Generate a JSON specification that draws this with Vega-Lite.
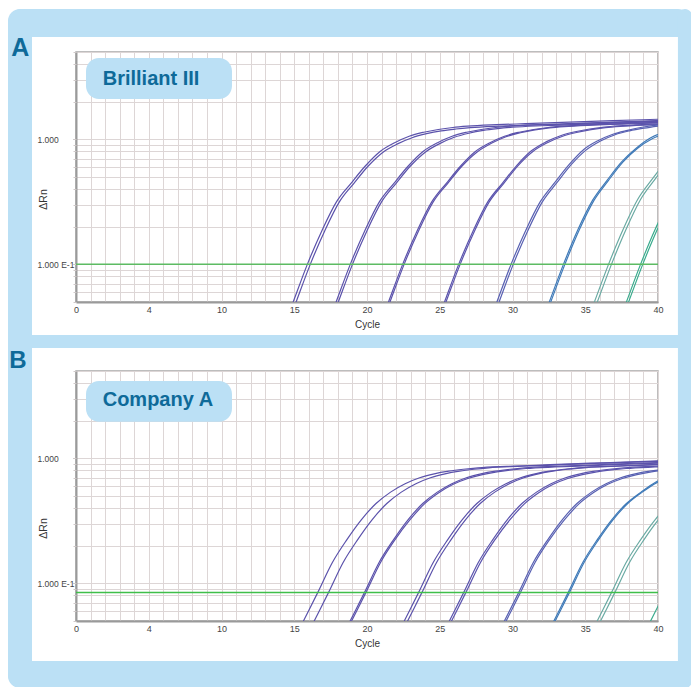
{
"$schema": "https://vega.github.io/schema/vega-lite/v6.json",
"background": "white",
"padding": {"left": 7, "top": 8, "right": 0, "bottom": 0},
"bounds": "flush",
"spacing": 69,
"config": {
  "view": {"stroke": "#a8a8a8", "strokeWidth": 1.5},
  "axis": {"labelFont": "Liberation Sans", "titleFont": "Liberation Sans", "labelColor": "#444444", "titleColor": "#333333", "labelFontSize": 9, "titleFontSize": 10, "titleFontWeight": "normal", "gridColor": "#ddd6d6", "gridOpacity": 1, "domainColor": "#9a9a9a", "domainWidth": 2, "tickColor": "#cfc8c8"}
},
"datasets": {
"A": [
{"curve":"a1","group":"g1","cycle":13.9,"dRn":0.024},{"curve":"a1","group":"g1","cycle":14.9,"dRn":0.049},{"curve":"a1","group":"g1","cycle":15.9,"dRn":0.1},{"curve":"a1","group":"g1","cycle":16.9,"dRn":0.186},{"curve":"a1","group":"g1","cycle":17.9,"dRn":0.316},{"curve":"a1","group":"g1","cycle":18.9,"dRn":0.445},{"curve":"a1","group":"g1","cycle":19.9,"dRn":0.615},{"curve":"a1","group":"g1","cycle":20.9,"dRn":0.8},{"curve":"a1","group":"g1","cycle":21.9,"dRn":0.94},{"curve":"a1","group":"g1","cycle":22.9,"dRn":1.06},{"curve":"a1","group":"g1","cycle":23.9,"dRn":1.14},{"curve":"a1","group":"g1","cycle":24.9,"dRn":1.2},{"curve":"a1","group":"g1","cycle":25.9,"dRn":1.245},{"curve":"a1","group":"g1","cycle":26.9,"dRn":1.275},{"curve":"a1","group":"g1","cycle":28.9,"dRn":1.31},{"curve":"a1","group":"g1","cycle":30.9,"dRn":1.335},{"curve":"a1","group":"g1","cycle":32.9,"dRn":1.36},{"curve":"a1","group":"g1","cycle":34.9,"dRn":1.385},{"curve":"a1","group":"g1","cycle":36.9,"dRn":1.41},{"curve":"a1","group":"g1","cycle":38.9,"dRn":1.435},{"curve":"a1","group":"g1","cycle":40.9,"dRn":1.46},
{"curve":"a2","group":"g1","cycle":14.1,"dRn":0.024},{"curve":"a2","group":"g1","cycle":15.1,"dRn":0.049},{"curve":"a2","group":"g1","cycle":16.1,"dRn":0.1},{"curve":"a2","group":"g1","cycle":17.1,"dRn":0.186},{"curve":"a2","group":"g1","cycle":18.1,"dRn":0.316},{"curve":"a2","group":"g1","cycle":19.1,"dRn":0.445},{"curve":"a2","group":"g1","cycle":20.1,"dRn":0.615},{"curve":"a2","group":"g1","cycle":21.1,"dRn":0.79},{"curve":"a2","group":"g1","cycle":22.1,"dRn":0.92},{"curve":"a2","group":"g1","cycle":23.1,"dRn":1.03},{"curve":"a2","group":"g1","cycle":24.1,"dRn":1.11},{"curve":"a2","group":"g1","cycle":25.1,"dRn":1.17},{"curve":"a2","group":"g1","cycle":26.1,"dRn":1.21},{"curve":"a2","group":"g1","cycle":27.1,"dRn":1.24},{"curve":"a2","group":"g1","cycle":29.1,"dRn":1.275},{"curve":"a2","group":"g1","cycle":31.1,"dRn":1.3},{"curve":"a2","group":"g1","cycle":33.1,"dRn":1.32},{"curve":"a2","group":"g1","cycle":35.1,"dRn":1.345},{"curve":"a2","group":"g1","cycle":37.1,"dRn":1.37},{"curve":"a2","group":"g1","cycle":39.1,"dRn":1.39},{"curve":"a2","group":"g1","cycle":41.1,"dRn":1.41},
{"curve":"a3","group":"g2","cycle":16.85,"dRn":0.024},{"curve":"a3","group":"g2","cycle":17.85,"dRn":0.049},{"curve":"a3","group":"g2","cycle":18.85,"dRn":0.1},{"curve":"a3","group":"g2","cycle":19.85,"dRn":0.186},{"curve":"a3","group":"g2","cycle":20.85,"dRn":0.316},{"curve":"a3","group":"g2","cycle":21.85,"dRn":0.445},{"curve":"a3","group":"g2","cycle":22.85,"dRn":0.615},{"curve":"a3","group":"g2","cycle":23.85,"dRn":0.8},{"curve":"a3","group":"g2","cycle":24.85,"dRn":0.94},{"curve":"a3","group":"g2","cycle":25.85,"dRn":1.06},{"curve":"a3","group":"g2","cycle":26.85,"dRn":1.14},{"curve":"a3","group":"g2","cycle":27.85,"dRn":1.2},{"curve":"a3","group":"g2","cycle":28.85,"dRn":1.245},{"curve":"a3","group":"g2","cycle":29.85,"dRn":1.275},{"curve":"a3","group":"g2","cycle":31.85,"dRn":1.31},{"curve":"a3","group":"g2","cycle":33.85,"dRn":1.335},{"curve":"a3","group":"g2","cycle":35.85,"dRn":1.36},{"curve":"a3","group":"g2","cycle":37.85,"dRn":1.385},{"curve":"a3","group":"g2","cycle":39.85,"dRn":1.41},{"curve":"a3","group":"g2","cycle":41.85,"dRn":1.435},
{"curve":"a4","group":"g2","cycle":17.0,"dRn":0.024},{"curve":"a4","group":"g2","cycle":18.0,"dRn":0.049},{"curve":"a4","group":"g2","cycle":19.0,"dRn":0.1},{"curve":"a4","group":"g2","cycle":20.0,"dRn":0.186},{"curve":"a4","group":"g2","cycle":21.0,"dRn":0.316},{"curve":"a4","group":"g2","cycle":22.0,"dRn":0.445},{"curve":"a4","group":"g2","cycle":23.0,"dRn":0.615},{"curve":"a4","group":"g2","cycle":24.0,"dRn":0.79},{"curve":"a4","group":"g2","cycle":25.0,"dRn":0.925},{"curve":"a4","group":"g2","cycle":26.0,"dRn":1.04},{"curve":"a4","group":"g2","cycle":27.0,"dRn":1.12},{"curve":"a4","group":"g2","cycle":28.0,"dRn":1.18},{"curve":"a4","group":"g2","cycle":29.0,"dRn":1.22},{"curve":"a4","group":"g2","cycle":30.0,"dRn":1.25},{"curve":"a4","group":"g2","cycle":32.0,"dRn":1.285},{"curve":"a4","group":"g2","cycle":34.0,"dRn":1.31},{"curve":"a4","group":"g2","cycle":36.0,"dRn":1.335},{"curve":"a4","group":"g2","cycle":38.0,"dRn":1.36},{"curve":"a4","group":"g2","cycle":40.0,"dRn":1.385},
{"curve":"a5","group":"g3","cycle":20.45,"dRn":0.024},{"curve":"a5","group":"g3","cycle":21.45,"dRn":0.049},{"curve":"a5","group":"g3","cycle":22.45,"dRn":0.1},{"curve":"a5","group":"g3","cycle":23.45,"dRn":0.186},{"curve":"a5","group":"g3","cycle":24.45,"dRn":0.316},{"curve":"a5","group":"g3","cycle":25.45,"dRn":0.445},{"curve":"a5","group":"g3","cycle":26.45,"dRn":0.615},{"curve":"a5","group":"g3","cycle":27.45,"dRn":0.8},{"curve":"a5","group":"g3","cycle":28.45,"dRn":0.94},{"curve":"a5","group":"g3","cycle":29.45,"dRn":1.06},{"curve":"a5","group":"g3","cycle":30.45,"dRn":1.14},{"curve":"a5","group":"g3","cycle":31.45,"dRn":1.2},{"curve":"a5","group":"g3","cycle":32.45,"dRn":1.245},{"curve":"a5","group":"g3","cycle":33.45,"dRn":1.275},{"curve":"a5","group":"g3","cycle":35.45,"dRn":1.31},{"curve":"a5","group":"g3","cycle":37.45,"dRn":1.335},{"curve":"a5","group":"g3","cycle":39.45,"dRn":1.36},{"curve":"a5","group":"g3","cycle":41.45,"dRn":1.385},
{"curve":"a6","group":"g3","cycle":20.55,"dRn":0.024},{"curve":"a6","group":"g3","cycle":21.55,"dRn":0.049},{"curve":"a6","group":"g3","cycle":22.55,"dRn":0.1},{"curve":"a6","group":"g3","cycle":23.55,"dRn":0.186},{"curve":"a6","group":"g3","cycle":24.55,"dRn":0.316},{"curve":"a6","group":"g3","cycle":25.55,"dRn":0.445},{"curve":"a6","group":"g3","cycle":26.55,"dRn":0.615},{"curve":"a6","group":"g3","cycle":27.55,"dRn":0.79},{"curve":"a6","group":"g3","cycle":28.55,"dRn":0.93},{"curve":"a6","group":"g3","cycle":29.55,"dRn":1.05},{"curve":"a6","group":"g3","cycle":30.55,"dRn":1.13},{"curve":"a6","group":"g3","cycle":31.55,"dRn":1.19},{"curve":"a6","group":"g3","cycle":32.55,"dRn":1.235},{"curve":"a6","group":"g3","cycle":33.55,"dRn":1.265},{"curve":"a6","group":"g3","cycle":35.55,"dRn":1.3},{"curve":"a6","group":"g3","cycle":37.55,"dRn":1.325},{"curve":"a6","group":"g3","cycle":39.55,"dRn":1.35},{"curve":"a6","group":"g3","cycle":41.55,"dRn":1.375},
{"curve":"a7","group":"g4","cycle":24.3,"dRn":0.024},{"curve":"a7","group":"g4","cycle":25.3,"dRn":0.049},{"curve":"a7","group":"g4","cycle":26.3,"dRn":0.1},{"curve":"a7","group":"g4","cycle":27.3,"dRn":0.186},{"curve":"a7","group":"g4","cycle":28.3,"dRn":0.316},{"curve":"a7","group":"g4","cycle":29.3,"dRn":0.445},{"curve":"a7","group":"g4","cycle":30.3,"dRn":0.62},{"curve":"a7","group":"g4","cycle":31.3,"dRn":0.81},{"curve":"a7","group":"g4","cycle":32.3,"dRn":0.955},{"curve":"a7","group":"g4","cycle":33.3,"dRn":1.07},{"curve":"a7","group":"g4","cycle":34.3,"dRn":1.15},{"curve":"a7","group":"g4","cycle":35.3,"dRn":1.21},{"curve":"a7","group":"g4","cycle":36.3,"dRn":1.255},{"curve":"a7","group":"g4","cycle":37.3,"dRn":1.285},{"curve":"a7","group":"g4","cycle":39.3,"dRn":1.32},{"curve":"a7","group":"g4","cycle":41.3,"dRn":1.345},
{"curve":"a8","group":"g4","cycle":24.4,"dRn":0.024},{"curve":"a8","group":"g4","cycle":25.4,"dRn":0.049},{"curve":"a8","group":"g4","cycle":26.4,"dRn":0.1},{"curve":"a8","group":"g4","cycle":27.4,"dRn":0.186},{"curve":"a8","group":"g4","cycle":28.4,"dRn":0.316},{"curve":"a8","group":"g4","cycle":29.4,"dRn":0.445},{"curve":"a8","group":"g4","cycle":30.4,"dRn":0.62},{"curve":"a8","group":"g4","cycle":31.4,"dRn":0.8},{"curve":"a8","group":"g4","cycle":32.4,"dRn":0.94},{"curve":"a8","group":"g4","cycle":33.4,"dRn":1.055},{"curve":"a8","group":"g4","cycle":34.4,"dRn":1.135},{"curve":"a8","group":"g4","cycle":35.4,"dRn":1.195},{"curve":"a8","group":"g4","cycle":36.4,"dRn":1.24},{"curve":"a8","group":"g4","cycle":37.4,"dRn":1.27},{"curve":"a8","group":"g4","cycle":39.4,"dRn":1.305},{"curve":"a8","group":"g4","cycle":41.4,"dRn":1.33},
{"curve":"a9","group":"g5","cycle":27.9,"dRn":0.024},{"curve":"a9","group":"g5","cycle":28.9,"dRn":0.049},{"curve":"a9","group":"g5","cycle":29.9,"dRn":0.1},{"curve":"a9","group":"g5","cycle":30.9,"dRn":0.186},{"curve":"a9","group":"g5","cycle":31.9,"dRn":0.316},{"curve":"a9","group":"g5","cycle":32.9,"dRn":0.45},{"curve":"a9","group":"g5","cycle":33.9,"dRn":0.63},{"curve":"a9","group":"g5","cycle":34.9,"dRn":0.83},{"curve":"a9","group":"g5","cycle":35.9,"dRn":0.98},{"curve":"a9","group":"g5","cycle":36.9,"dRn":1.1},{"curve":"a9","group":"g5","cycle":37.9,"dRn":1.18},{"curve":"a9","group":"g5","cycle":38.9,"dRn":1.25},{"curve":"a9","group":"g5","cycle":39.9,"dRn":1.3},{"curve":"a9","group":"g5","cycle":40.9,"dRn":1.33},
{"curve":"a10","group":"g5","cycle":28.05,"dRn":0.024},{"curve":"a10","group":"g5","cycle":29.05,"dRn":0.049},{"curve":"a10","group":"g5","cycle":30.05,"dRn":0.1},{"curve":"a10","group":"g5","cycle":31.05,"dRn":0.186},{"curve":"a10","group":"g5","cycle":32.05,"dRn":0.316},{"curve":"a10","group":"g5","cycle":33.05,"dRn":0.45},{"curve":"a10","group":"g5","cycle":34.05,"dRn":0.63},{"curve":"a10","group":"g5","cycle":35.05,"dRn":0.82},{"curve":"a10","group":"g5","cycle":36.05,"dRn":0.97},{"curve":"a10","group":"g5","cycle":37.05,"dRn":1.09},{"curve":"a10","group":"g5","cycle":38.05,"dRn":1.17},{"curve":"a10","group":"g5","cycle":39.05,"dRn":1.23},{"curve":"a10","group":"g5","cycle":40.05,"dRn":1.28},
{"curve":"a11","group":"g6","cycle":31.5,"dRn":0.024},{"curve":"a11","group":"g6","cycle":32.5,"dRn":0.049},{"curve":"a11","group":"g6","cycle":33.5,"dRn":0.1},{"curve":"a11","group":"g6","cycle":34.5,"dRn":0.19},{"curve":"a11","group":"g6","cycle":35.5,"dRn":0.325},{"curve":"a11","group":"g6","cycle":36.5,"dRn":0.47},{"curve":"a11","group":"g6","cycle":37.5,"dRn":0.66},{"curve":"a11","group":"g6","cycle":38.5,"dRn":0.85},{"curve":"a11","group":"g6","cycle":39.5,"dRn":1.03},{"curve":"a11","group":"g6","cycle":40.5,"dRn":1.15},
{"curve":"a12","group":"g6","cycle":31.6,"dRn":0.024},{"curve":"a12","group":"g6","cycle":32.6,"dRn":0.049},{"curve":"a12","group":"g6","cycle":33.6,"dRn":0.1},{"curve":"a12","group":"g6","cycle":34.6,"dRn":0.19},{"curve":"a12","group":"g6","cycle":35.6,"dRn":0.325},{"curve":"a12","group":"g6","cycle":36.6,"dRn":0.47},{"curve":"a12","group":"g6","cycle":37.6,"dRn":0.66},{"curve":"a12","group":"g6","cycle":38.6,"dRn":0.85},{"curve":"a12","group":"g6","cycle":39.6,"dRn":1.01},{"curve":"a12","group":"g6","cycle":40.6,"dRn":1.13},
{"curve":"a13","group":"g7","cycle":34.6,"dRn":0.024},{"curve":"a13","group":"g7","cycle":35.6,"dRn":0.049},{"curve":"a13","group":"g7","cycle":36.6,"dRn":0.1},{"curve":"a13","group":"g7","cycle":37.6,"dRn":0.19},{"curve":"a13","group":"g7","cycle":38.6,"dRn":0.33},{"curve":"a13","group":"g7","cycle":39.6,"dRn":0.48},{"curve":"a13","group":"g7","cycle":40.6,"dRn":0.68},
{"curve":"a14","group":"g7","cycle":34.8,"dRn":0.024},{"curve":"a14","group":"g7","cycle":35.8,"dRn":0.049},{"curve":"a14","group":"g7","cycle":36.8,"dRn":0.1},{"curve":"a14","group":"g7","cycle":37.8,"dRn":0.19},{"curve":"a14","group":"g7","cycle":38.8,"dRn":0.33},{"curve":"a14","group":"g7","cycle":39.8,"dRn":0.48},{"curve":"a14","group":"g7","cycle":40.8,"dRn":0.68},
{"curve":"a15","group":"g8","cycle":36.8,"dRn":0.024},{"curve":"a15","group":"g8","cycle":37.8,"dRn":0.049},{"curve":"a15","group":"g8","cycle":38.8,"dRn":0.1},{"curve":"a15","group":"g8","cycle":39.8,"dRn":0.19},{"curve":"a15","group":"g8","cycle":40.8,"dRn":0.33},
{"curve":"a16","group":"g8","cycle":36.95,"dRn":0.024},{"curve":"a16","group":"g8","cycle":37.95,"dRn":0.049},{"curve":"a16","group":"g8","cycle":38.95,"dRn":0.1},{"curve":"a16","group":"g8","cycle":39.95,"dRn":0.19},{"curve":"a16","group":"g8","cycle":40.95,"dRn":0.33}
],
"B": [
{"curve":"b1","group":"g1","cycle":14.62,"dRn":0.029},{"curve":"b1","group":"g1","cycle":15.62,"dRn":0.0497},{"curve":"b1","group":"g1","cycle":16.62,"dRn":0.0847},{"curve":"b1","group":"g1","cycle":17.62,"dRn":0.147},{"curve":"b1","group":"g1","cycle":18.62,"dRn":0.224},{"curve":"b1","group":"g1","cycle":19.62,"dRn":0.324},{"curve":"b1","group":"g1","cycle":20.62,"dRn":0.435},{"curve":"b1","group":"g1","cycle":21.62,"dRn":0.537},{"curve":"b1","group":"g1","cycle":22.62,"dRn":0.627},{"curve":"b1","group":"g1","cycle":23.62,"dRn":0.7},{"curve":"b1","group":"g1","cycle":24.62,"dRn":0.752},{"curve":"b1","group":"g1","cycle":25.62,"dRn":0.79},{"curve":"b1","group":"g1","cycle":26.62,"dRn":0.818},{"curve":"b1","group":"g1","cycle":27.62,"dRn":0.84},{"curve":"b1","group":"g1","cycle":29.62,"dRn":0.863},{"curve":"b1","group":"g1","cycle":31.62,"dRn":0.88},{"curve":"b1","group":"g1","cycle":33.62,"dRn":0.9},{"curve":"b1","group":"g1","cycle":35.62,"dRn":0.917},{"curve":"b1","group":"g1","cycle":37.62,"dRn":0.933},{"curve":"b1","group":"g1","cycle":39.62,"dRn":0.95},{"curve":"b1","group":"g1","cycle":41.62,"dRn":0.968},
{"curve":"b2","group":"g1","cycle":15.36,"dRn":0.029},{"curve":"b2","group":"g1","cycle":16.36,"dRn":0.0497},{"curve":"b2","group":"g1","cycle":17.36,"dRn":0.0847},{"curve":"b2","group":"g1","cycle":18.36,"dRn":0.147},{"curve":"b2","group":"g1","cycle":19.36,"dRn":0.224},{"curve":"b2","group":"g1","cycle":20.36,"dRn":0.324},{"curve":"b2","group":"g1","cycle":21.36,"dRn":0.435},{"curve":"b2","group":"g1","cycle":22.36,"dRn":0.537},{"curve":"b2","group":"g1","cycle":23.36,"dRn":0.627},{"curve":"b2","group":"g1","cycle":24.36,"dRn":0.7},{"curve":"b2","group":"g1","cycle":25.36,"dRn":0.752},{"curve":"b2","group":"g1","cycle":26.36,"dRn":0.79},{"curve":"b2","group":"g1","cycle":27.36,"dRn":0.818},{"curve":"b2","group":"g1","cycle":28.36,"dRn":0.84},{"curve":"b2","group":"g1","cycle":30.36,"dRn":0.863},{"curve":"b2","group":"g1","cycle":32.36,"dRn":0.88},{"curve":"b2","group":"g1","cycle":34.36,"dRn":0.9},{"curve":"b2","group":"g1","cycle":36.36,"dRn":0.917},{"curve":"b2","group":"g1","cycle":38.36,"dRn":0.933},{"curve":"b2","group":"g1","cycle":40.36,"dRn":0.95},
{"curve":"b3","group":"g2","cycle":17.83,"dRn":0.029},{"curve":"b3","group":"g2","cycle":18.83,"dRn":0.0497},{"curve":"b3","group":"g2","cycle":19.83,"dRn":0.0847},{"curve":"b3","group":"g2","cycle":20.83,"dRn":0.147},{"curve":"b3","group":"g2","cycle":21.83,"dRn":0.224},{"curve":"b3","group":"g2","cycle":22.83,"dRn":0.324},{"curve":"b3","group":"g2","cycle":23.83,"dRn":0.435},{"curve":"b3","group":"g2","cycle":24.83,"dRn":0.537},{"curve":"b3","group":"g2","cycle":25.83,"dRn":0.627},{"curve":"b3","group":"g2","cycle":26.83,"dRn":0.7},{"curve":"b3","group":"g2","cycle":27.83,"dRn":0.752},{"curve":"b3","group":"g2","cycle":28.83,"dRn":0.79},{"curve":"b3","group":"g2","cycle":29.83,"dRn":0.818},{"curve":"b3","group":"g2","cycle":30.83,"dRn":0.84},{"curve":"b3","group":"g2","cycle":32.83,"dRn":0.863},{"curve":"b3","group":"g2","cycle":34.83,"dRn":0.88},{"curve":"b3","group":"g2","cycle":36.83,"dRn":0.9},{"curve":"b3","group":"g2","cycle":38.83,"dRn":0.917},{"curve":"b3","group":"g2","cycle":40.83,"dRn":0.933},
{"curve":"b4","group":"g2","cycle":17.93,"dRn":0.029},{"curve":"b4","group":"g2","cycle":18.93,"dRn":0.0497},{"curve":"b4","group":"g2","cycle":19.93,"dRn":0.0847},{"curve":"b4","group":"g2","cycle":20.93,"dRn":0.147},{"curve":"b4","group":"g2","cycle":21.93,"dRn":0.224},{"curve":"b4","group":"g2","cycle":22.93,"dRn":0.32},{"curve":"b4","group":"g2","cycle":23.93,"dRn":0.43},{"curve":"b4","group":"g2","cycle":24.93,"dRn":0.53},{"curve":"b4","group":"g2","cycle":25.93,"dRn":0.62},{"curve":"b4","group":"g2","cycle":26.93,"dRn":0.69},{"curve":"b4","group":"g2","cycle":27.93,"dRn":0.742},{"curve":"b4","group":"g2","cycle":28.93,"dRn":0.78},{"curve":"b4","group":"g2","cycle":29.93,"dRn":0.808},{"curve":"b4","group":"g2","cycle":30.93,"dRn":0.83},{"curve":"b4","group":"g2","cycle":32.93,"dRn":0.853},{"curve":"b4","group":"g2","cycle":34.93,"dRn":0.87},{"curve":"b4","group":"g2","cycle":36.93,"dRn":0.89},{"curve":"b4","group":"g2","cycle":38.93,"dRn":0.907},{"curve":"b4","group":"g2","cycle":40.93,"dRn":0.923},
{"curve":"b5","group":"g3","cycle":21.55,"dRn":0.029},{"curve":"b5","group":"g3","cycle":22.55,"dRn":0.0497},{"curve":"b5","group":"g3","cycle":23.55,"dRn":0.0847},{"curve":"b5","group":"g3","cycle":24.55,"dRn":0.147},{"curve":"b5","group":"g3","cycle":25.55,"dRn":0.224},{"curve":"b5","group":"g3","cycle":26.55,"dRn":0.324},{"curve":"b5","group":"g3","cycle":27.55,"dRn":0.435},{"curve":"b5","group":"g3","cycle":28.55,"dRn":0.537},{"curve":"b5","group":"g3","cycle":29.55,"dRn":0.627},{"curve":"b5","group":"g3","cycle":30.55,"dRn":0.7},{"curve":"b5","group":"g3","cycle":31.55,"dRn":0.752},{"curve":"b5","group":"g3","cycle":32.55,"dRn":0.79},{"curve":"b5","group":"g3","cycle":33.55,"dRn":0.818},{"curve":"b5","group":"g3","cycle":34.55,"dRn":0.84},{"curve":"b5","group":"g3","cycle":36.55,"dRn":0.863},{"curve":"b5","group":"g3","cycle":38.55,"dRn":0.88},{"curve":"b5","group":"g3","cycle":40.55,"dRn":0.9},
{"curve":"b6","group":"g3","cycle":21.78,"dRn":0.029},{"curve":"b6","group":"g3","cycle":22.78,"dRn":0.0497},{"curve":"b6","group":"g3","cycle":23.78,"dRn":0.0847},{"curve":"b6","group":"g3","cycle":24.78,"dRn":0.147},{"curve":"b6","group":"g3","cycle":25.78,"dRn":0.224},{"curve":"b6","group":"g3","cycle":26.78,"dRn":0.324},{"curve":"b6","group":"g3","cycle":27.78,"dRn":0.435},{"curve":"b6","group":"g3","cycle":28.78,"dRn":0.537},{"curve":"b6","group":"g3","cycle":29.78,"dRn":0.627},{"curve":"b6","group":"g3","cycle":30.78,"dRn":0.7},{"curve":"b6","group":"g3","cycle":31.78,"dRn":0.752},{"curve":"b6","group":"g3","cycle":32.78,"dRn":0.79},{"curve":"b6","group":"g3","cycle":33.78,"dRn":0.818},{"curve":"b6","group":"g3","cycle":34.78,"dRn":0.84},{"curve":"b6","group":"g3","cycle":36.78,"dRn":0.863},{"curve":"b6","group":"g3","cycle":38.78,"dRn":0.88},{"curve":"b6","group":"g3","cycle":40.78,"dRn":0.9},
{"curve":"b7","group":"g4","cycle":24.65,"dRn":0.029},{"curve":"b7","group":"g4","cycle":25.65,"dRn":0.0497},{"curve":"b7","group":"g4","cycle":26.65,"dRn":0.0847},{"curve":"b7","group":"g4","cycle":27.65,"dRn":0.147},{"curve":"b7","group":"g4","cycle":28.65,"dRn":0.224},{"curve":"b7","group":"g4","cycle":29.65,"dRn":0.324},{"curve":"b7","group":"g4","cycle":30.65,"dRn":0.435},{"curve":"b7","group":"g4","cycle":31.65,"dRn":0.537},{"curve":"b7","group":"g4","cycle":32.65,"dRn":0.627},{"curve":"b7","group":"g4","cycle":33.65,"dRn":0.7},{"curve":"b7","group":"g4","cycle":34.65,"dRn":0.752},{"curve":"b7","group":"g4","cycle":35.65,"dRn":0.79},{"curve":"b7","group":"g4","cycle":36.65,"dRn":0.818},{"curve":"b7","group":"g4","cycle":37.65,"dRn":0.84},{"curve":"b7","group":"g4","cycle":39.65,"dRn":0.863},{"curve":"b7","group":"g4","cycle":41.65,"dRn":0.88},
{"curve":"b8","group":"g4","cycle":24.8,"dRn":0.029},{"curve":"b8","group":"g4","cycle":25.8,"dRn":0.0497},{"curve":"b8","group":"g4","cycle":26.8,"dRn":0.0847},{"curve":"b8","group":"g4","cycle":27.8,"dRn":0.147},{"curve":"b8","group":"g4","cycle":28.8,"dRn":0.224},{"curve":"b8","group":"g4","cycle":29.8,"dRn":0.32},{"curve":"b8","group":"g4","cycle":30.8,"dRn":0.43},{"curve":"b8","group":"g4","cycle":31.8,"dRn":0.53},{"curve":"b8","group":"g4","cycle":32.8,"dRn":0.62},{"curve":"b8","group":"g4","cycle":33.8,"dRn":0.69},{"curve":"b8","group":"g4","cycle":34.8,"dRn":0.742},{"curve":"b8","group":"g4","cycle":35.8,"dRn":0.78},{"curve":"b8","group":"g4","cycle":36.8,"dRn":0.808},{"curve":"b8","group":"g4","cycle":37.8,"dRn":0.83},{"curve":"b8","group":"g4","cycle":39.8,"dRn":0.853},{"curve":"b8","group":"g4","cycle":41.8,"dRn":0.87},
{"curve":"b9","group":"g5","cycle":28.43,"dRn":0.029},{"curve":"b9","group":"g5","cycle":29.43,"dRn":0.0497},{"curve":"b9","group":"g5","cycle":30.43,"dRn":0.0847},{"curve":"b9","group":"g5","cycle":31.43,"dRn":0.147},{"curve":"b9","group":"g5","cycle":32.43,"dRn":0.224},{"curve":"b9","group":"g5","cycle":33.43,"dRn":0.324},{"curve":"b9","group":"g5","cycle":34.43,"dRn":0.435},{"curve":"b9","group":"g5","cycle":35.43,"dRn":0.537},{"curve":"b9","group":"g5","cycle":36.43,"dRn":0.627},{"curve":"b9","group":"g5","cycle":37.43,"dRn":0.7},{"curve":"b9","group":"g5","cycle":38.43,"dRn":0.752},{"curve":"b9","group":"g5","cycle":39.43,"dRn":0.79},{"curve":"b9","group":"g5","cycle":40.43,"dRn":0.818},
{"curve":"b10","group":"g5","cycle":28.55,"dRn":0.029},{"curve":"b10","group":"g5","cycle":29.55,"dRn":0.0497},{"curve":"b10","group":"g5","cycle":30.55,"dRn":0.0847},{"curve":"b10","group":"g5","cycle":31.55,"dRn":0.147},{"curve":"b10","group":"g5","cycle":32.55,"dRn":0.224},{"curve":"b10","group":"g5","cycle":33.55,"dRn":0.32},{"curve":"b10","group":"g5","cycle":34.55,"dRn":0.43},{"curve":"b10","group":"g5","cycle":35.55,"dRn":0.53},{"curve":"b10","group":"g5","cycle":36.55,"dRn":0.62},{"curve":"b10","group":"g5","cycle":37.55,"dRn":0.69},{"curve":"b10","group":"g5","cycle":38.55,"dRn":0.742},{"curve":"b10","group":"g5","cycle":39.55,"dRn":0.78},{"curve":"b10","group":"g5","cycle":40.55,"dRn":0.808},
{"curve":"b11","group":"g6","cycle":31.83,"dRn":0.029},{"curve":"b11","group":"g6","cycle":32.83,"dRn":0.0497},{"curve":"b11","group":"g6","cycle":33.83,"dRn":0.0847},{"curve":"b11","group":"g6","cycle":34.83,"dRn":0.147},{"curve":"b11","group":"g6","cycle":35.83,"dRn":0.224},{"curve":"b11","group":"g6","cycle":36.83,"dRn":0.324},{"curve":"b11","group":"g6","cycle":37.83,"dRn":0.435},{"curve":"b11","group":"g6","cycle":38.83,"dRn":0.537},{"curve":"b11","group":"g6","cycle":39.83,"dRn":0.645},{"curve":"b11","group":"g6","cycle":40.83,"dRn":0.72},
{"curve":"b12","group":"g6","cycle":31.92,"dRn":0.029},{"curve":"b12","group":"g6","cycle":32.92,"dRn":0.0497},{"curve":"b12","group":"g6","cycle":33.92,"dRn":0.0847},{"curve":"b12","group":"g6","cycle":34.92,"dRn":0.147},{"curve":"b12","group":"g6","cycle":35.92,"dRn":0.224},{"curve":"b12","group":"g6","cycle":36.92,"dRn":0.324},{"curve":"b12","group":"g6","cycle":37.92,"dRn":0.435},{"curve":"b12","group":"g6","cycle":38.92,"dRn":0.537},{"curve":"b12","group":"g6","cycle":39.92,"dRn":0.64},{"curve":"b12","group":"g6","cycle":40.92,"dRn":0.715},
{"curve":"b13","group":"g7","cycle":34.81,"dRn":0.029},{"curve":"b13","group":"g7","cycle":35.81,"dRn":0.0497},{"curve":"b13","group":"g7","cycle":36.81,"dRn":0.0847},{"curve":"b13","group":"g7","cycle":37.81,"dRn":0.147},{"curve":"b13","group":"g7","cycle":38.81,"dRn":0.224},{"curve":"b13","group":"g7","cycle":39.81,"dRn":0.324},{"curve":"b13","group":"g7","cycle":40.81,"dRn":0.435},
{"curve":"b14","group":"g7","cycle":35.04,"dRn":0.029},{"curve":"b14","group":"g7","cycle":36.04,"dRn":0.0497},{"curve":"b14","group":"g7","cycle":37.04,"dRn":0.0847},{"curve":"b14","group":"g7","cycle":38.04,"dRn":0.147},{"curve":"b14","group":"g7","cycle":39.04,"dRn":0.224},{"curve":"b14","group":"g7","cycle":40.04,"dRn":0.324},{"curve":"b14","group":"g7","cycle":41.04,"dRn":0.435},
{"curve":"b15","group":"g8","cycle":38.48,"dRn":0.029},{"curve":"b15","group":"g8","cycle":39.48,"dRn":0.0497},{"curve":"b15","group":"g8","cycle":40.48,"dRn":0.0847}
]
},
"vconcat": [
{
  "width": 582, "height": 250,
  "resolve": {"axis": {"x": "independent", "y": "independent"}},
  "layer": [
    {"data": {"values": [{}]}, "mark": {"type": "rect", "color": "#bbe0f5", "cornerRadius": 15}, "encoding": {"x": {"datum": -4.674, "type": "quantitative", "axis": null}, "x2": {"datum": 42.34}, "y": {"datum": 11.04, "type": "quantitative", "axis": null}, "y2": {"datum": 6.59}}},
    {"data": {"values": [{}]}, "mark": {"type": "rect", "color": "#bbe0f5", "cornerRadius": 15}, "encoding": {"x": {"datum": -4.674, "type": "quantitative", "axis": null}, "x2": {"datum": -3.024}, "y": {"datum": 11.04, "type": "quantitative", "axis": null}, "y2": {"datum": 0.0000408}}},
    {"data": {"values": [{}]}, "mark": {"type": "rect", "color": "#bbe0f5", "cornerRadius": 15}, "encoding": {"x": {"datum": 41.37, "type": "quantitative", "axis": null}, "x2": {"datum": 42.34}, "y": {"datum": 11.04, "type": "quantitative", "axis": null}, "y2": {"datum": 0.0000408}}},
    {"data": {"values": [{}]}, "mark": {"type": "rect", "color": "#bbe0f5"}, "encoding": {"x": {"datum": -4.674, "type": "quantitative", "axis": null}, "x2": {"datum": 42.34}, "y": {"datum": 0.02723, "type": "quantitative", "axis": null}, "y2": {"datum": 0.02143}}},
    {"data": {"values": [{}]}, "mark": {"type": "rect", "color": "#bbe0f5", "cornerRadius": 15}, "encoding": {"x": {"datum": -4.674, "type": "quantitative", "axis": null}, "x2": {"datum": 42.34}, "y": {"datum": 0.0000672, "type": "quantitative", "axis": null}, "y2": {"datum": 0.0000408}}},
    {"data": {"name": "A"}, "mark": {"type": "line", "clip": true, "strokeWidth": 1.2, "interpolate": "monotone"},
     "encoding": {
       "x": {"field": "cycle", "type": "quantitative", "scale": {"domain": [0, 40], "nice": false, "zero": false},
             "axis": {"orient": "bottom", "title": "Cycle", "values": [0,5,10,15,20,25,30,35,40], "labelExpr": "datum.value == 5 ? '4' : datum.label", "ticks": false, "labelPadding": 3, "labelFlush": false, "labelOverlap": false, "titleY": 22, "titleBaseline": "middle", "grid": false}},
       "y": {"field": "dRn", "type": "quantitative", "scale": {"type": "log", "domain": [0.05, 5], "nice": false},
             "axis": {"orient": "left", "title": "ΔRn", "values": [0.1, 1], "labelExpr": "datum.value >= 1 ? '1.000' : '1.000 E-1'", "tickSize": 3, "tickColor": "#9a9a9a", "labelAlign": "left", "labelPadding": 36, "labelFontSize": 8.5, "labelOverlap": false, "labelFlush": false, "titleX": -33, "titleY": 147, "titleBaseline": "middle", "titleAlign": "center", "titleAngle": 270, "titleFontSize": 10.5, "grid": false}},
       "color": {"field": "group", "type": "nominal", "scale": {"domain": ["g1","g2","g3","g4","g5","g6","g7","g8"], "range": ["#5b52ab","#5b52ab","#5b52ab","#5b54ad","#5860b2","#3f7ab8","#6aaaa3","#3aab8d"]}, "legend": null},
       "detail": {"field": "curve"}
     }},
    {"data": {"values": [{}]}, "mark": {"type": "rule", "color": "#5dbb63", "strokeWidth": 1.5}, "encoding": {"y": {"datum": 0.1, "type": "quantitative", "axis": null}}},
    {"data": {"values": [{}]}, "mark": {"type": "rect", "color": "#bbe0f5", "cornerRadius": 13},
     "encoding": {
       "x": {"datum": 0.687, "type": "quantitative", "axis": {"orient": "bottom", "grid": true, "values": [0,1,2,3,4,5,6,7,8,9,10,11,12,13,14,15,16,17,18,19,20,21,22,23,24,25,26,27,28,29,30,31,32,33,34,35,36,37,38,39,40], "labels": false, "ticks": false, "domain": false, "title": null}},
       "x2": {"datum": 10.72},
       "y": {"datum": 4.477, "type": "quantitative", "axis": {"orient": "left", "grid": true, "values": [0.05,0.06,0.07,0.08,0.09,0.1,0.2,0.3,0.4,0.5,0.6,0.7,0.8,0.9,1,2,3,4,5], "labels": false, "ticks": true, "tickSize": 3, "domain": false, "title": null}},
       "y2": {"datum": 2.104}}},
    {"data": {"values": [{}]}, "mark": {"type": "text", "text": "Brilliant III", "font": "Liberation Sans", "fontSize": 20, "fontWeight": "bold", "color": "#0e6a99", "align": "left", "baseline": "alphabetic"}, "encoding": {"x": {"datum": 1.835, "type": "quantitative", "axis": null}, "y": {"datum": 2.72, "type": "quantitative", "axis": null}}},
    {"data": {"values": [{}]}, "mark": {"type": "text", "text": "A", "font": "Liberation Sans", "fontSize": 25, "fontWeight": "bold", "color": "#0e6a99", "align": "center", "baseline": "alphabetic"}, "encoding": {"x": {"datum": -3.835, "type": "quantitative", "axis": null}, "y": {"datum": 4.64, "type": "quantitative", "axis": null}}}
  ]
},
{
  "width": 582, "height": 250,
  "resolve": {"axis": {"x": "independent", "y": "independent"}},
  "layer": [
    {"data": {"name": "B"}, "mark": {"type": "line", "clip": true, "strokeWidth": 1.2, "interpolate": "monotone"},
     "encoding": {
       "x": {"field": "cycle", "type": "quantitative", "scale": {"domain": [0, 40], "nice": false, "zero": false},
             "axis": {"orient": "bottom", "title": "Cycle", "values": [0,5,10,15,20,25,30,35,40], "labelExpr": "datum.value == 5 ? '4' : datum.label", "ticks": false, "labelPadding": 3, "labelFlush": false, "labelOverlap": false, "titleY": 22, "titleBaseline": "middle", "grid": false}},
       "y": {"field": "dRn", "type": "quantitative", "scale": {"type": "log", "domain": [0.05, 5], "nice": false},
             "axis": {"orient": "left", "title": "ΔRn", "values": [0.1, 1], "labelExpr": "datum.value >= 1 ? '1.000' : '1.000 E-1'", "tickSize": 3, "tickColor": "#9a9a9a", "labelAlign": "left", "labelPadding": 36, "labelFontSize": 8.5, "labelOverlap": false, "labelFlush": false, "titleX": -33, "titleY": 157, "titleBaseline": "middle", "titleAlign": "center", "titleAngle": 270, "titleFontSize": 10.5, "grid": false}},
       "color": {"field": "group", "type": "nominal", "scale": {"domain": ["g1","g2","g3","g4","g5","g6","g7","g8"], "range": ["#5550a8","#5550a8","#5550a8","#5452aa","#5258ae","#3b76b0","#6aa5a0","#4da89a"]}, "legend": null},
       "detail": {"field": "curve"}
     }},
    {"data": {"values": [{}]}, "mark": {"type": "rule", "color": "#3fbf4a", "strokeWidth": 1.5}, "encoding": {"y": {"datum": 0.0847, "type": "quantitative", "axis": null}}},
    {"data": {"values": [{}]}, "mark": {"type": "rect", "color": "#bbe0f5", "cornerRadius": 13},
     "encoding": {
       "x": {"datum": 0.687, "type": "quantitative", "axis": {"orient": "bottom", "grid": true, "values": [0,1,2,3,4,5,6,7,8,9,10,11,12,13,14,15,16,17,18,19,20,21,22,23,24,25,26,27,28,29,30,31,32,33,34,35,36,37,38,39,40], "labels": false, "ticks": false, "domain": false, "title": null}},
       "x2": {"datum": 10.72},
       "y": {"datum": 4.159, "type": "quantitative", "axis": {"orient": "left", "grid": true, "values": [0.05,0.06,0.07,0.08,0.09,0.1,0.2,0.3,0.4,0.5,0.6,0.7,0.8,0.9,1,2,3,4,5], "labels": false, "ticks": true, "tickSize": 3, "domain": false, "title": null}},
       "y2": {"datum": 1.965}}},
    {"data": {"values": [{}]}, "mark": {"type": "text", "text": "Company A", "font": "Liberation Sans", "fontSize": 20, "fontWeight": "bold", "color": "#0e6a99", "align": "left", "baseline": "alphabetic"}, "encoding": {"x": {"datum": 1.835, "type": "quantitative", "axis": null}, "y": {"datum": 2.624, "type": "quantitative", "axis": null}}},
    {"data": {"values": [{}]}, "mark": {"type": "text", "text": "B", "font": "Liberation Sans", "fontSize": 24, "fontWeight": "bold", "color": "#0e6a99", "align": "center", "baseline": "alphabetic"}, "encoding": {"x": {"datum": -3.986, "type": "quantitative", "axis": null}, "y": {"datum": 5.255, "type": "quantitative", "axis": null}}}
  ]
}
]
}
